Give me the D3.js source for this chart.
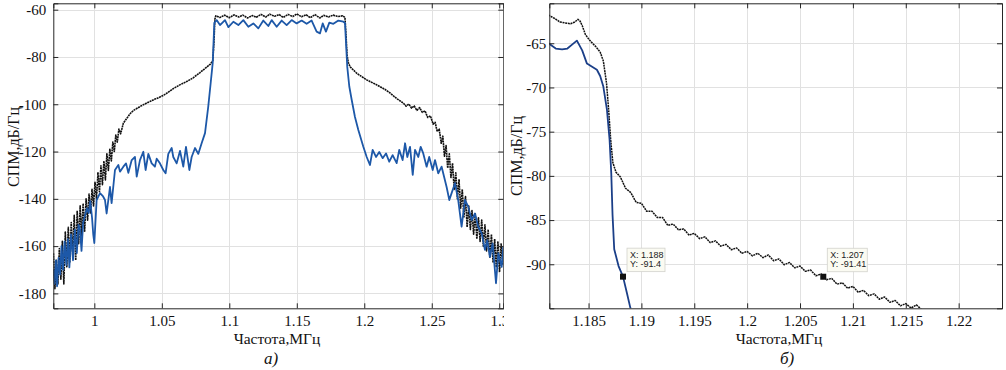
<!DOCTYPE html>
<html>
<head>
<meta charset="utf-8">
<script src="https://cdn.jsdelivr.net/npm/d3@7"></script>
<style>
body { margin: 0; background: #fff; }
text { font-family: 'Liberation Serif', 'Times New Roman', serif; }
.tip text { font-family: 'Liberation Sans', Arial, sans-serif; }
</style>
</head>
<body>
<svg id="chart" width="1006" height="370"></svg>
<script>
// ---- panel a): full spectrum ----
var freqA_black = [0.9697, 0.9708, 0.9719, 0.9730, 0.9741, 0.9752, 0.9763, 0.9774, 0.9785, 0.9796,
    0.9807, 0.9818, 0.9829, 0.9840, 0.9851, 0.9862, 0.9873, 0.9884, 0.9895, 0.9906,
    0.9917, 0.9928, 0.9939, 0.9950, 0.9961, 0.9972, 0.9983, 0.9994, 1.0005, 1.0016,
    1.0027, 1.0038, 1.0049, 1.0060, 1.0071, 1.0082, 1.0093, 1.0104, 1.0115, 1.0126,
    1.0137, 1.0148, 1.0159, 1.0170, 1.0182, 1.0195, 1.0215, 1.0240, 1.0265, 1.0290,
    1.0320, 1.0350, 1.0388, 1.0420, 1.0450, 1.0480, 1.0510, 1.0545, 1.0585, 1.0630,
    1.0684, 1.0730, 1.0783, 1.0830, 1.0860, 1.0878, 1.0887, 1.0893, 1.0900, 1.0930,
    1.0965, 1.1000, 1.1035, 1.1070, 1.1100, 1.1135, 1.1170, 1.1200, 1.1235, 1.1270,
    1.1300, 1.1335, 1.1370, 1.1400, 1.1435, 1.1470, 1.1500, 1.1535, 1.1570, 1.1600,
    1.1635, 1.1670, 1.1700, 1.1735, 1.1770, 1.1805, 1.1840, 1.1857, 1.1866, 1.1872,
    1.1881, 1.1894, 1.1944, 1.2018, 1.2092, 1.2150, 1.2190, 1.2240, 1.2289, 1.2310,
    1.2330, 1.2350, 1.2370, 1.2390, 1.2410, 1.2430, 1.2450, 1.2470, 1.2490, 1.2510,
    1.2525, 1.2540, 1.2555, 1.2570, 1.2582, 1.2594, 1.2606, 1.2618, 1.2630, 1.2642,
    1.2654, 1.2666, 1.2678, 1.2690, 1.2702, 1.2714, 1.2726, 1.2738, 1.2750, 1.2762,
    1.2774, 1.2786, 1.2798, 1.2810, 1.2822, 1.2834, 1.2846, 1.2858, 1.2870, 1.2882,
    1.2894, 1.2906, 1.2918, 1.2930, 1.2942, 1.2954, 1.2966, 1.2978, 1.2990, 1.3002,
    1.3014, 1.3026];
var psdA_black = [-163, -178, -166, -176, -161, -174, -158, -176, -154, -169,
    -152, -167, -150, -164, -147, -166, -145, -159, -143, -156,
    -142, -154, -140, -149, -138, -146, -136, -143, -133, -140,
    -129, -137, -126, -134, -124, -132, -121, -128, -119, -124,
    -116, -120, -113, -116, -110.5, -112.5, -108, -106, -104, -102.6,
    -101.6, -100.6, -99.5, -98.6, -97.8, -97.1, -96.3, -95.0, -93.4, -91.9,
    -90.4, -88.9, -86.6, -84.4, -83.0, -81.5, -73, -64, -62.6, -63.3,
    -62.3, -63.4, -62.2, -63.1, -62.3, -63.5, -62.5, -63.2, -62.0, -63.1,
    -61.9, -62.8, -62.1, -63.3, -62.0, -62.9, -61.8, -63.0, -62.2, -63.4,
    -62.1, -63.5, -62.4, -63.1, -62.3, -62.9, -62.6, -63.3, -72, -79,
    -82.2, -84.1, -86.9, -89.7, -91.8, -93.6, -95.2, -97.6, -99.5, -100.8,
    -99.9, -101.6, -100.7, -102.6, -101.4, -103.4, -102.8, -105.6, -104.9, -108.4,
    -107.6, -111.5, -110.5, -116.5, -113.5, -122, -117.5, -127, -121, -131,
    -125, -136, -129, -140, -132, -144, -136, -148, -139, -152,
    -143, -153, -145, -155, -146, -157, -148, -158, -149, -160,
    -151, -162, -153, -165, -155, -167, -157, -169, -158, -171,
    -159, -168];

var freqA_blue = [0.9697, 0.9705, 0.9715, 0.9724, 0.9735, 0.9746, 0.9757, 0.9768, 0.9780, 0.9793,
    0.9805, 0.9815, 0.9828, 0.9842, 0.9856, 0.9870, 0.9883, 0.9894, 0.9905, 0.9917,
    0.9931, 0.9945, 0.9958, 0.9970, 0.9983, 0.9992, 1.0000, 1.0017, 1.0042, 1.0065,
    1.0079, 1.0091, 1.0116, 1.0128, 1.0153, 1.0178, 1.0190, 1.0215, 1.0235, 1.0252,
    1.0277, 1.0301, 1.0314, 1.0338, 1.0363, 1.0380, 1.0400, 1.0425, 1.0449, 1.0462,
    1.0486, 1.0511, 1.0528, 1.0548, 1.0573, 1.0585, 1.0610, 1.0635, 1.0659, 1.0679,
    1.0704, 1.0721, 1.0746, 1.0770, 1.0795, 1.0820, 1.0844, 1.0862, 1.0877, 1.0889,
    1.0906, 1.0931, 1.0968, 1.0993, 1.1030, 1.1067, 1.1104, 1.1141, 1.1178, 1.1215,
    1.1252, 1.1289, 1.1314, 1.1351, 1.1388, 1.1425, 1.1462, 1.1499, 1.1536, 1.1573,
    1.1610, 1.1647, 1.1672, 1.1692, 1.1716, 1.1741, 1.1771, 1.1808, 1.1845, 1.1857,
    1.1874, 1.1889, 1.1907, 1.1931, 1.1956, 1.1993, 1.2018, 1.2042, 1.2062, 1.2087,
    1.2111, 1.2136, 1.2161, 1.2185, 1.2210, 1.2240, 1.2259, 1.2284, 1.2302, 1.2319,
    1.2339, 1.2359, 1.2376, 1.2400, 1.2418, 1.2437, 1.2462, 1.2481, 1.2507, 1.2524,
    1.2548, 1.2573, 1.2610, 1.2630, 1.2647, 1.2672, 1.2696, 1.2721, 1.2746, 1.2770,
    1.2796, 1.2820, 1.2844, 1.2870, 1.2894, 1.2911, 1.2931, 1.2951, 1.2976, 1.2993,
    1.3018, 1.3030];
var psdA_blue = [-170, -176, -166, -177, -165, -172, -160, -170, -158, -168,
    -157, -169, -155, -166, -153, -163, -151, -153, -162, -150,
    -147, -144, -146, -141, -148, -155, -158.7, -140.5, -137.6, -139,
    -140.5, -146.2, -135, -141.8, -127.8, -125.7, -128.5, -126.4, -125, -129,
    -123.6, -122.3, -130.6, -123.6, -120.1, -127.8, -121, -125, -126.4, -123,
    -125, -127.8, -129.2, -121, -118.5, -122.3, -125, -119.7, -126.4, -118,
    -127.8, -122.3, -118.5, -121, -116.5, -112.2, -101, -91, -82.6, -65.6,
    -64.4, -66.5, -64.4, -67.4, -65.1, -66.5, -64.4, -67.2, -65.8, -67.9,
    -64.6, -66.9, -64.4, -67.2, -64.6, -66.5, -64.4, -65.8, -64.6, -66.0,
    -64.6, -69.3, -70.0, -65.8, -69.3, -65.5, -66.0, -64.6, -65.1, -65.6,
    -84.2, -92.5, -98.2, -105.4, -110.9, -118, -122.3, -125.7, -119.3, -122.3,
    -120.2, -122.8, -120.8, -124.3, -121.5, -124.9, -119.3, -123.6, -116.5, -122.3,
    -118, -129.9, -119.3, -122.3, -118, -120.8, -126.4, -122.3, -127.8, -123.6,
    -129.2, -126.4, -135, -140.5, -137.6, -133.4, -140.5, -151.8, -140.5, -143.3,
    -149, -146.2, -151.8, -154.6, -161.6, -157.5, -164.5, -158.9, -175.7, -163,
    -168.8, -160];

var ticksA_x = [1, 1.05, 1.1, 1.15, 1.2, 1.25, 1.3];
var ticksA_y = [-180, -160, -140, -120, -100, -80, -60];

// ---- panel б): zoom on the right edge of the band ----
var freqB_black = [1.1812, 1.1818, 1.1823, 1.1828, 1.1833, 1.1837, 1.1840, 1.1842, 1.1844, 1.1847,
    1.1850, 1.1853, 1.1857, 1.1861, 1.1864, 1.1867, 1.1869, 1.1871, 1.1873, 1.1876, 1.1880,
    1.1885, 1.1890, 1.1895, 1.1900, 1.1905, 1.1910, 1.1915, 1.1920, 1.1925, 1.1930,
    1.1935, 1.1940, 1.1945, 1.1950, 1.1955, 1.1960, 1.1965, 1.1970, 1.1975, 1.1980,
    1.1985, 1.1990, 1.1995, 1.2000, 1.2005, 1.2010, 1.2015, 1.2020, 1.2025, 1.2030,
    1.2035, 1.2040, 1.2045, 1.2050, 1.2055, 1.2060, 1.2065, 1.2070, 1.2075, 1.2080,
    1.2085, 1.2090, 1.2095, 1.2100, 1.2105, 1.2110, 1.2115, 1.2120, 1.2125, 1.2130,
    1.2135, 1.2140, 1.2145, 1.2150, 1.2155, 1.2160, 1.2165, 1.2170];
var psdB_black = [-61.8, -62.2, -62.6, -62.7, -62.8, -62.6, -62.3, -62.5, -63.0, -64.0,
    -64.5, -64.9, -65.4, -66.0, -67.0, -69.5, -72.5, -76.0, -78.5, -79.6, -80.1,
    -81.4, -81.9, -83.0, -83.1, -84.0, -84.0, -84.7, -84.7, -85.6, -85.45,
    -86.1, -86.0, -86.7, -86.5, -87.1, -86.9, -87.55, -87.35, -87.95, -87.75,
    -88.35, -88.15, -88.75, -88.55, -89.05, -88.75, -89.25, -88.95, -89.6, -89.4,
    -90.05, -89.8, -90.4, -90.2, -90.8, -90.65, -91.3, -91.1, -91.75, -91.6,
    -92.25, -92.1, -92.7, -92.5, -93.15, -92.95, -93.55, -93.35, -93.95, -93.7,
    -94.3, -94.1, -94.7, -94.45, -94.95, -94.6, -95.1, -95.3];

var freqB_blue = [1.1812, 1.1819, 1.1825, 1.1830, 1.1835, 1.1839, 1.1844, 1.18485, 1.18579, 1.1861,
    1.1864, 1.18674, 1.18699, 1.18715, 1.18727, 1.18743, 1.18784, 1.18826, 1.18864, 1.18895, 1.1891];
var psdB_blue = [-65.0, -65.6, -65.7, -65.6, -65.1, -64.7, -65.8, -67.3, -68.0, -68.7,
    -69.9, -72.5, -75.9, -79.7, -84.4, -88.3, -90.2, -91.4, -93.3, -94.9, -95.6];

var ticksB_x = [1.185, 1.19, 1.195, 1.2, 1.205, 1.21, 1.215, 1.22];
var ticksB_y = [-90, -85, -80, -75, -70, -65];

// data tips
var tipFreq = [1.18826, 1.2072];
var tipPsd = [-91.4, -91.41];
var tipLabelX = ['X: 1.188', 'X: 1.207'];
var tipLabelY = ['Y: -91.4', 'Y: -91.41'];

var axisLabel = 'СПМ,дБ/Гц';
var freqLabel = 'Частота,МГц';

var svg = d3.select('#chart');

var drawPanel = function (p) {
    svg.append('clipPath').attr('id', p.id + '-panel')
        .append('rect').attr('x', p.clipX0).attr('y', 0).attr('width', p.clipX1 - p.clipX0).attr('height', 370);
    svg.append('clipPath').attr('id', p.id + '-plot')
        .append('rect').attr('x', p.left).attr('y', p.top).attr('width', p.right - p.left).attr('height', p.bottom - p.top);

    var g = svg.append('g').attr('clip-path', 'url(#' + p.id + '-panel)');
    var x = d3.scaleLinear().domain(p.xDomain).range([p.left, p.right]);
    var y = d3.scaleLinear().domain(p.yDomain).range([p.bottom, p.top]);

    // grid
    var grid = g.append('g').attr('stroke', '#e1e1e1').attr('stroke-width', 1);
    grid.selectAll('.gx').data(p.xTicks).enter().append('line')
        .attr('x1', function (d) { return Math.round(x(d)) + 0.5; })
        .attr('x2', function (d) { return Math.round(x(d)) + 0.5; })
        .attr('y1', p.top).attr('y2', p.bottom);
    grid.selectAll('.gy').data(p.yTicks).enter().append('line')
        .attr('y1', function (d) { return Math.round(y(d)) + 0.5; })
        .attr('y2', function (d) { return Math.round(y(d)) + 0.5; })
        .attr('x1', p.left).attr('x2', p.right);

    // curves
    var plot = g.append('g').attr('clip-path', 'url(#' + p.id + '-plot)');
    p.series.forEach(function (s) {
        var line = d3.line()
            .x(function (d, i) { return x(s.freq[i]); })
            .y(function (d) { return y(d); });
        plot.append('path')
            .datum(s.psd)
            .attr('fill', 'none')
            .attr('stroke', s.color)
            .attr('stroke-width', s.width)
            .attr('stroke-dasharray', s.dash || null)
            .attr('stroke-linejoin', 'round')
            .attr('d', line);
    });

    // axes, ticks pointing inward on all four sides
    var fmt = function (d) { return String(d); };
    var ax = g.append('g').attr('transform', 'translate(0,' + p.bottom + ')')
        .call(d3.axisBottom(x).tickValues(p.xTicks).tickFormat(fmt).tickSize(-5).tickPadding(7));
    var ay = g.append('g').attr('transform', 'translate(' + p.left + ',0)')
        .call(d3.axisLeft(y).tickValues(p.yTicks).tickFormat(fmt).tickSize(-5).tickPadding(p.yPad));
    var at = g.append('g').attr('transform', 'translate(0,' + p.top + ')')
        .call(d3.axisTop(x).tickValues(p.xTicks).tickFormat('').tickSize(-5));
    var ar = g.append('g').attr('transform', 'translate(' + p.right + ',0)')
        .call(d3.axisRight(y).tickValues(p.yTicks).tickFormat('').tickSize(-5));
    [ax, ay, at, ar].forEach(function (a) {
        a.select('.domain').attr('stroke', '#262626').attr('stroke-width', 1);
        a.selectAll('.tick line').attr('stroke', '#262626');
        a.selectAll('text').attr('font-family', "'Liberation Serif', 'Times New Roman', serif")
            .attr('font-size', 15).attr('fill', '#111');
    });

    // data tips
    if (p.tips) {
        var tips = g.append('g').attr('class', 'tip');
        p.tips.forEach(function (i) {
            var tx = x(tipFreq[i]), ty = y(tipPsd[i]);
            tips.append('rect').attr('x', tx + 4).attr('y', ty - 28.5)
                .attr('width', i === 0 ? 38 : 40).attr('height', 23.5)
                .attr('fill', '#fbfbf2').attr('stroke', '#d2d2cc').attr('stroke-width', 0.8);
            tips.append('text').attr('x', tx + 7).attr('y', ty - 18.5)
                .attr('font-size', 9).attr('fill', '#222').text(tipLabelX[i]);
            tips.append('text').attr('x', tx + 7).attr('y', ty - 9.5)
                .attr('font-size', 9).attr('fill', '#222').text(tipLabelY[i]);
            tips.append('rect').attr('x', tx - 3).attr('y', ty - 3)
                .attr('width', 6).attr('height', 6).attr('fill', '#111');
        });
    }

    // labels
    g.append('text')
        .attr('transform', 'translate(' + p.yLabelX + ',' + p.yLabelY + ') rotate(-90)')
        .attr('text-anchor', 'middle').attr('font-size', 16).attr('fill', '#111')
        .text(axisLabel);
    g.append('text').attr('x', p.xLabelX).attr('y', 344)
        .attr('text-anchor', 'middle').attr('font-size', 15.5).attr('fill', '#111')
        .text(freqLabel);
    svg.append('text').attr('x', p.tagX).attr('y', 364)
        .attr('text-anchor', 'middle').attr('font-size', 17).attr('font-style', 'italic').attr('fill', '#111')
        .text(p.tag);
};

drawPanel({
    id: 'a', clipX0: 0, clipX1: 504,
    left: 53.3, right: 503.3, top: 3.3, bottom: 308.3,
    xDomain: [0.9696, 1.3030], yDomain: [-186.3, -57.3],
    xTicks: ticksA_x, yTicks: ticksA_y, yPad: 7,
    series: [
        {freq: freqA_black, psd: psdA_black, color: '#111', width: 1.6, dash: '2,0.6'},
        {freq: freqA_blue, psd: psdA_blue, color: '#1d58a8', width: 1.8}
    ],
    yLabelX: 19, yLabelY: 147, xLabelX: 277, tagX: 271, tag: 'а)'
});

drawPanel({
    id: 'b', clipX0: 504, clipX1: 1006,
    left: 549.3, right: 1002, top: 3.3, bottom: 308.3,
    xDomain: [1.18129, 1.22410], yDomain: [-94.98, -60.48],
    xTicks: ticksB_x, yTicks: ticksB_y, yPad: 3,
    series: [
        {freq: freqB_black, psd: psdB_black, color: '#111', width: 1.5, dash: '2,0.7'},
        {freq: freqB_blue, psd: psdB_blue, color: '#1b3f88', width: 1.8}
    ],
    tips: [0, 1],
    yLabelX: 522, yLabelY: 156, xLabelX: 779, tagX: 787, tag: 'б)'
});
</script>
</body>
</html>
